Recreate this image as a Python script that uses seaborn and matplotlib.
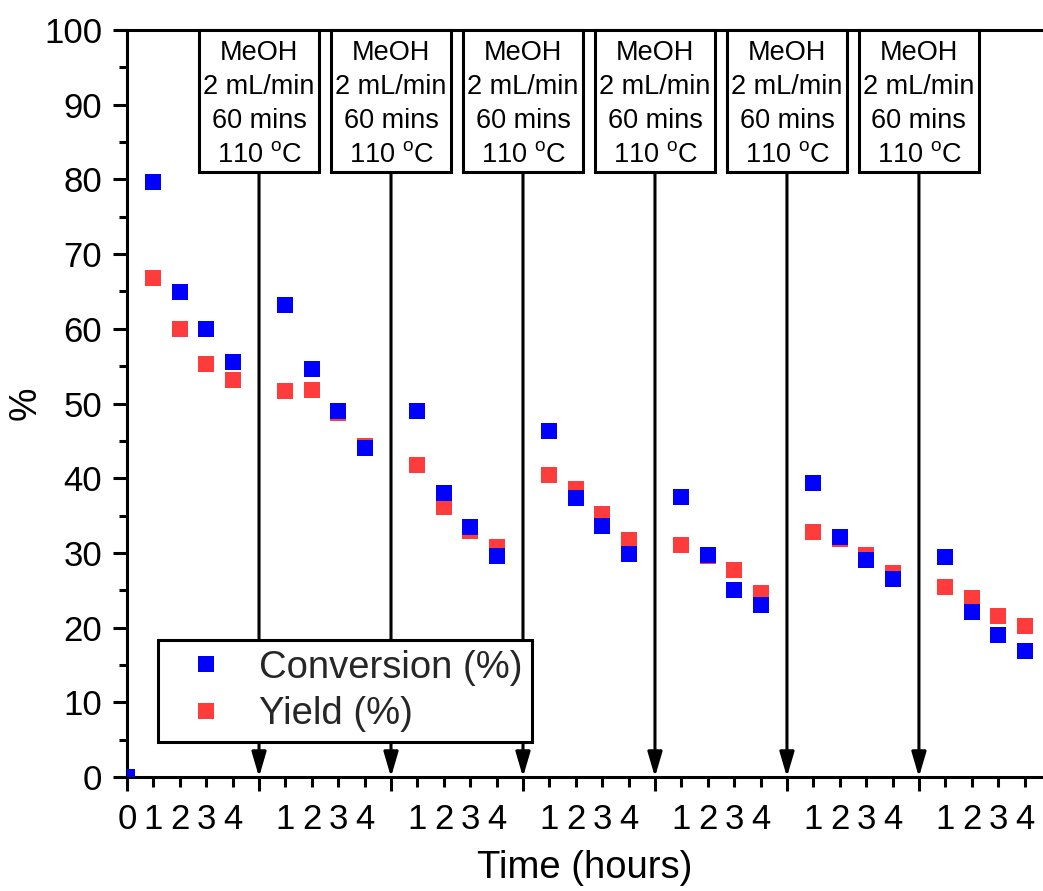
import matplotlib
matplotlib.use("Agg")
import matplotlib.pyplot as plt
from matplotlib.patches import Rectangle
import seaborn as sns
import pandas as pd

# Hours sampled inside each run, and the number of methanol-wash runs
run_hours = [1, 2, 3, 4]
n_runs = 7
cycle = 5  # one slot per hour plus one for the wash between runs

conversion = [
    [79.7, 64.9, 60.0, 55.6],
    [63.2, 54.6, 49.0, 44.0],
    [49.0, 38.0, 33.5, 29.6],
    [46.3, 37.3, 33.6, 29.9],
    [37.5, 29.7, 25.0, 23.0],
    [39.4, 32.1, 29.0, 26.5],
    [29.5, 22.1, 19.0, 16.9],
]
yield_ = [
    [66.8, 60.0, 55.3, 53.1],
    [51.7, 51.8, 48.7, 44.3],
    [41.8, 36.1, 32.9, 30.8],
    [40.4, 38.6, 35.2, 31.7],
    [31.1, 29.6, 27.7, 24.6],
    [32.8, 31.9, 29.7, 27.3],
    [25.4, 24.0, 21.6, 20.2],
]
start_conversion = 0.0
start_yield = 0.0

wash_lines = ["MeOH", "2 mL/min", "60 mins", r"110 $^{\mathregular{o}}$C"]
series_names = ["Conversion (%)", "Yield (%)"]
colors = {"Conversion (%)": "#0000ff", "Yield (%)": "#ff3c3c"}

# Long-form table; yield rows first so conversion squares sit on top
rows = []
for name, start, vals in [("Yield (%)", start_yield, yield_),
                          ("Conversion (%)", start_conversion, conversion)]:
    rows.append({"pos": 0, "value": start, "series": name})
    for r in range(n_runs):
        for h, v in zip(run_hours, vals[r]):
            rows.append({"pos": r * cycle + h, "value": v, "series": name})
df = pd.DataFrame(rows)

sns.set_theme(style="ticks")
plt.rcParams["font.family"] = ["Liberation Sans", "DejaVu Sans"]
plt.rcParams["mathtext.fontset"] = "custom"
plt.rcParams["mathtext.rm"] = "Liberation Sans"

fig = plt.figure(figsize=(10.43, 8.91), dpi=100)
ax = fig.add_axes([0.1218, 0.1279, 0.8782, 0.8384])

sns.scatterplot(data=df, x="pos", y="value", hue="series",
                hue_order=series_names, palette=colors, marker="s",
                s=133, linewidth=0, ax=ax, zorder=3)

xmax = (n_runs - 1) * cycle + run_hours[-1] + 0.7
ax.set_xlim(0, xmax)
ax.set_ylim(0, 100)

# Ticks: long ticks at run boundaries, short ticks at each hour
lw = 2.2
tick_fs = 25
major_x = list(range(0, n_runs * cycle, cycle))
minor_x = [r * cycle + h for r in range(n_runs) for h in run_hours]
ax.set_xticks(major_x, ["0"] + [""] * (len(major_x) - 1))
ax.set_xticks(minor_x, [str(h) for r in range(n_runs) for h in run_hours],
              minor=True)
ax.set_yticks(range(0, 101, 10))
ax.set_yticks(range(5, 100, 10), minor=True)

ax.tick_params(axis="x", which="major", length=10, width=lw, pad=9,
               labelsize=tick_fs, direction="out", colors="black")
ax.tick_params(axis="x", which="minor", length=7.5, width=lw, pad=11.5,
               labelsize=tick_fs, direction="out", colors="black")
ax.tick_params(axis="y", which="major", length=10, width=lw, pad=8,
               labelsize=tick_fs, direction="out", colors="black")
ax.tick_params(axis="y", which="minor", length=5.5, width=lw,
               direction="out", colors="black")

for side in ["left", "bottom", "top"]:
    ax.spines[side].set_linewidth(lw)
    ax.spines[side].set_color("black")
ax.spines["right"].set_visible(False)

ax.set_xlabel("Time (hours)", fontsize=27.5, labelpad=10, color="black")
ax.set_ylabel("%", fontsize=27, labelpad=0, color="black")

# Wash step annotations: labelled box on the top spine and an arrow to the axis
box_w = 4.55
box_bottom = 81.0
for r in range(1, n_runs):
    xc = r * cycle
    ax.add_patch(Rectangle((xc - box_w / 2, box_bottom), box_w, 100 - box_bottom,
                           facecolor="white", edgecolor="black", linewidth=lw,
                           clip_on=False, zorder=4))
    ax.text(xc, (100 + box_bottom) / 2 - 0.35, "\n".join(wash_lines), ha="center",
            va="center", multialignment="center", fontsize=19.5,
            linespacing=1.4, color="black", zorder=5)
    ax.annotate("", xy=(xc, 0), xytext=(xc, box_bottom),
                arrowprops=dict(arrowstyle="-|>,head_length=0.75,head_width=0.22",
                                mutation_scale=20, lw=lw, color="black",
                                shrinkA=0, shrinkB=0),
                zorder=2)

handles, labels = ax.get_legend_handles_labels()
for hnd in handles:
    hnd.set_markersize(12)
leg = ax.legend(handles, labels, loc="lower left",
                bbox_to_anchor=(0.0338, 0.0469), borderaxespad=0,
                fontsize=27.5, frameon=True, fancybox=False, edgecolor="black",
                framealpha=1, borderpad=0.25, handlelength=2.0,
                handletextpad=0.4, labelspacing=0.28)
leg.get_frame().set_linewidth(lw)
leg.set_zorder(6)

fig.savefig("out.png", dpi=100, facecolor="white")
